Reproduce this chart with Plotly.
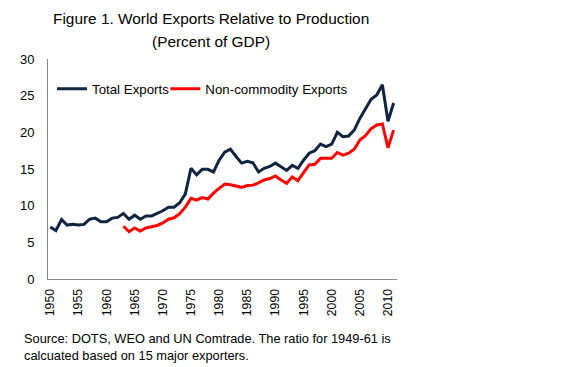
import plotly.graph_objects as go

years = list(range(1950, 2012))
total_exports = [7.1, 6.6, 8.1, 7.35, 7.45, 7.35, 7.45, 8.15, 8.3, 7.8,
                 7.8, 8.3, 8.4, 8.95, 8.15, 8.7, 8.15, 8.6, 8.6, 8.95,
                 9.3, 9.8, 9.8, 10.4, 11.6, 15.1, 14.2, 14.95, 14.95, 14.6,
                 16.2, 17.3, 17.7, 16.7, 15.8, 16.05, 15.85, 14.6, 15.1, 15.35,
                 15.8, 15.3, 14.8, 15.5, 15.1, 16.2, 17.15, 17.5, 18.4, 18.05,
                 18.4, 20.0, 19.4, 19.5, 20.3, 21.9, 23.2, 24.5, 25.1, 26.5,
                 21.5, 24.0]
noncommodity_exports = [None] * 13 + [
    7.2, 6.45, 6.95, 6.55, 6.95, 7.1, 7.3,
    7.65, 8.15, 8.35, 8.9, 9.8, 11.0, 10.75, 11.1, 10.9, 11.7,
    12.35, 12.95, 12.85, 12.65, 12.5, 12.75, 12.8, 13.1, 13.5, 13.7,
    14.05, 13.5, 13.05, 13.9, 13.4, 14.5, 15.55, 15.65, 16.45, 16.45,
    16.45, 17.25, 16.9, 17.15, 17.7, 18.95, 19.55, 20.5, 21.0, 21.15,
    17.9, 20.3]
x_tick_years = list(range(1950, 2011, 5))
y_ticks = [0, 5, 10, 15, 20, 25, 30]

title_line1 = "Figure 1. World Exports Relative to Production"
title_line2 = "(Percent of GDP)"
source_text = ("Source: DOTS, WEO and UN Comtrade. The ratio for 1949-61 is<br>"
               "calcuated based on 15 major exporters.")

FONT = "Arial, 'Liberation Sans', sans-serif"

# The page body adds an 8px offset; figure coordinates are shifted to compensate.
OFF = 8
W, H = 583 - OFF, 367 - OFF
L, R, T, B = 46 - OFF, 186, 59 - OFF, 88
pw = W - L - R
ph = H - T - B


def px(x):
    return (x - OFF - L) / pw


def py(y):
    return (H - B - (y - OFF)) / ph


fig = go.Figure()
fig.add_trace(go.Scatter(x=years, y=total_exports, mode="lines",
                         name="Total Exports", legend="legend",
                         line=dict(color="#0F243E", width=3)))
fig.add_trace(go.Scatter(x=years, y=noncommodity_exports, mode="lines",
                         name="Non-commodity Exports", legend="legend2",
                         line=dict(color="#FF0000", width=3)))

legend_common = dict(orientation="h", xanchor="left", yanchor="middle",
                     font=dict(size=13.3), bgcolor="rgba(0,0,0,0)",
                     borderwidth=0)

fig.update_layout(
    width=W, height=H,
    margin=dict(l=L, r=R, t=T, b=B, pad=0),
    paper_bgcolor="white", plot_bgcolor="white",
    font=dict(family=FONT, size=13, color="black"),
    showlegend=True,
    legend=dict(x=px(50), y=py(89), **legend_common),
    legend2=dict(x=px(164), y=py(89), **legend_common),
    annotations=[
        dict(text=title_line1, x=px(210), y=py(18), xref="paper", yref="paper",
             showarrow=False, xanchor="center", yanchor="middle",
             font=dict(size=15.4)),
        dict(text=title_line2, x=px(210), y=py(42), xref="paper", yref="paper",
             showarrow=False, xanchor="center", yanchor="middle",
             font=dict(size=15.4)),
        dict(text=source_text, x=px(20), y=py(346.5), xref="paper", yref="paper",
             showarrow=False, xanchor="left", yanchor="middle", align="left",
             font=dict(size=12.8)),
    ],
)

fig.update_xaxes(range=[1949.6, 2011.6], tickmode="array", tickvals=x_tick_years,
                 ticktext=[str(v) for v in x_tick_years], tickangle=-90,
                 showgrid=False, zeroline=False, showline=True,
                 linecolor="#868686", linewidth=1, ticks="",
                 ticklabelstandoff=4, tickfont=dict(size=12.3))
fig.update_yaxes(range=[0, 30], tickmode="array", tickvals=y_ticks,
                 showgrid=False, zeroline=False, showline=True,
                 linecolor="#868686", linewidth=1, ticks="",
                 ticklabelstandoff=10, tickfont=dict(size=13))

fig.write_html("out.html")
